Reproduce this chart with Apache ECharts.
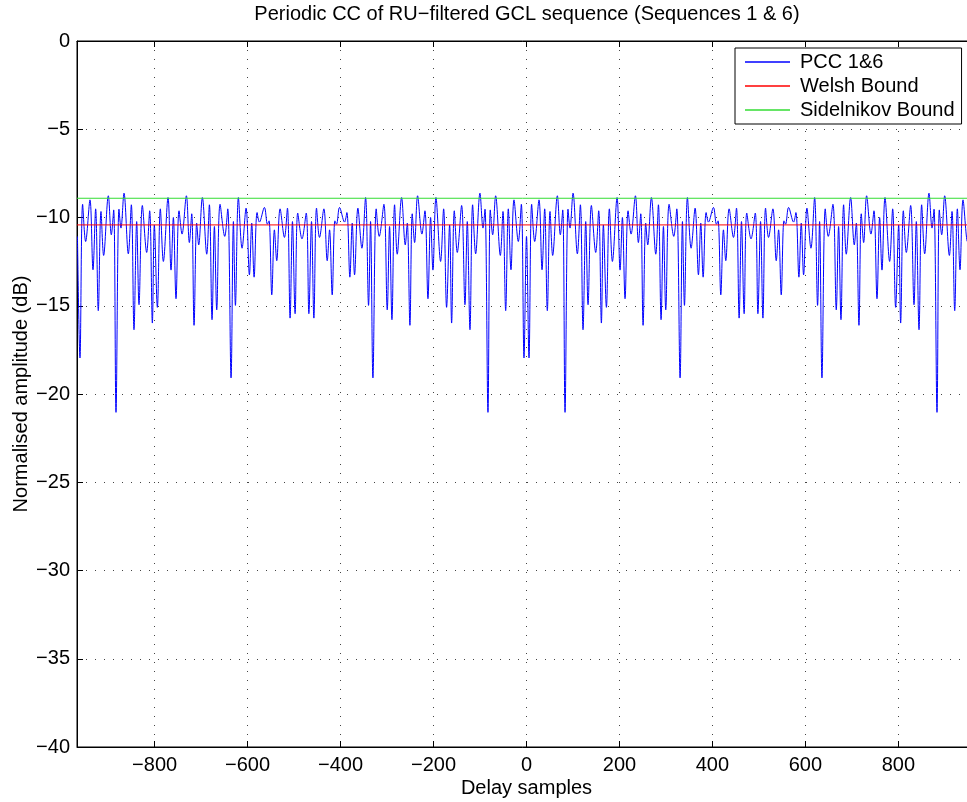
<!DOCTYPE html>
<html><head><meta charset="utf-8">
<script src="https://cdn.jsdelivr.net/npm/echarts@6/dist/echarts.min.js"></script>
<style>html,body{margin:0;padding:0;background:#fff}#c{width:967px;height:802px}</style>
</head><body><div id="c"></div>
<script>
// Delay (samples) of each read-off turning point of the PCC curve
const delays = [
-966.0,-960.6,-954.9,-948.4,-939.1,-932.6,-926.9,-921.2,-915.4,-909.7,-899.6,-893.2,-888.1,-883.1,-876.7,-872.4,-865.9,-856.6,-850.1,-844.4,-838.6,-833.6,-826.4,-817.1,-810.7,-804.9,-800.6,-794.1,-787.7,-781.2,-771.2,-764.7,-759.7,-754.0,-747.5,-741.0,-731.7,-725.3,-720.2,-715.2,-709.5,-705.2,-697.3,-687.9,-682.2,-676.5,-671.4,-666.4,-659.2,-649.2,-642.7,-635.6,-630.5,-626.2,-619.8,-611.9,-603.3,-596.1,-591.1,-586.0,-579.6,-574.6,-563.8,-557.3,-553.8,-548.0,-542.3,-537.3,-530.1,-520.7,-514.3,-508.6,-503.5,-497.8,-492.1,-483.0,
-473.9,-468.2,-462.5,-457.4,-451.7,-445.3,-435.9,-428.7,-423.7,-418.0,-412.2,-408.7,-402.2,-391.4,-386.4,-380.0,-374.9,-369.9,-362.7,-354.1,-346.2,-339.8,-335.5,-330.4,-323.3,-316.8,-306.8,-299.6,-294.6,-289.5,-283.8,-278.1,-268.7,-260.8,-256.5,-250.8,-245.8,-240.7,-234.3,-225.0,-218.5,-212.0,-206.3,-201.3,-194.8,-184.8,-178.3,-171.9,-165.4,-161.1,-155.3,-148.9,-139.6,-132.4,-127.4,-121.6,-115.9,-109.4,-100.1,-93.6,-89.3,-82.9,-77.9,-72.8,-66.4,-56.3,-50.6,-44.8,-39.1,-33.4,-26.9,-17.6,-11.1,-5.4,0,
5.4,11.1,17.6,26.9,33.4,39.1,44.8,50.6,56.3,66.4,72.8,77.9,82.9,89.3,93.6,100.1,109.4,115.9,121.6,127.4,132.4,139.6,148.9,155.3,161.1,165.4,171.9,178.3,184.8,194.8,201.3,206.3,212.0,218.5,225.0,234.3,240.7,245.8,250.8,256.5,260.8,268.7,278.1,283.8,289.5,294.6,299.6,306.8,316.8,323.3,330.4,335.5,339.8,346.2,354.1,362.7,369.9,374.9,380.0,386.4,391.4,402.2,408.7,412.2,418.0,423.7,428.7,435.9,445.3,451.7,457.4,462.5,468.2,473.9,483.0,
492.1,497.8,503.5,508.6,514.3,520.7,530.1,537.3,542.3,548.0,553.8,557.3,563.8,574.6,579.6,586.0,591.1,596.1,603.3,611.9,619.8,626.2,630.5,635.6,642.7,649.2,659.2,666.4,671.4,676.5,682.2,687.9,697.3,705.2,709.5,715.2,720.2,725.3,731.7,741.0,747.5,754.0,759.7,764.7,771.2,781.2,787.7,794.1,800.6,804.9,810.7,817.1,826.4,833.6,838.6,844.4,850.1,856.6,865.9,872.4,876.7,883.1,888.1,893.2,899.6,909.7,915.4,921.2,926.9,932.6,939.1,948.4,954.9,960.6,966.0
];
// Normalised amplitude (dB) at those delays
const pcc = [
-11.07,-17.96,-9.25,-11.36,-9.00,-12.96,-9.51,-15.28,-9.66,-12.15,-8.77,-10.98,-9.57,-21.04,-9.53,-10.60,-8.62,-12.06,-9.28,-16.36,-10.23,-14.94,-9.32,-11.98,-9.62,-15.98,-10.42,-15.09,-9.51,-12.49,-8.87,-12.98,-10.00,-14.60,-9.62,-10.94,-8.77,-11.42,-9.79,-16.11,-10.32,-11.55,-8.87,-12.08,-9.28,-15.79,-10.51,-15.23,-9.25,-11.07,-9.51,-19.09,-10.23,-14.98,-8.87,-11.74,-9.47,-13.25,-10.32,-13.38,-9.72,-10.26,-9.43,-10.38,-10.19,-14.38,-10.70,-12.45,-9.51,-11.13,-9.47,-15.70,-10.23,-15.45,-9.75,-11.21,
-9.75,-15.45,-10.23,-15.70,-9.47,-11.13,-9.51,-12.45,-10.70,-14.38,-10.19,-10.38,-9.43,-10.26,-9.72,-13.38,-10.32,-13.25,-9.47,-11.74,-8.87,-14.98,-10.23,-19.09,-9.51,-11.07,-9.25,-15.23,-10.51,-15.79,-9.28,-12.08,-8.87,-11.55,-10.32,-16.11,-9.79,-11.42,-8.77,-10.94,-9.62,-14.60,-10.00,-12.98,-8.87,-12.49,-9.51,-15.09,-10.42,-15.98,-9.62,-11.98,-9.32,-14.94,-10.23,-16.36,-9.28,-12.06,-8.62,-10.60,-9.53,-21.04,-9.57,-10.98,-8.77,-12.15,-9.66,-15.28,-9.51,-12.96,-9.00,-11.36,-9.25,-17.96,-11.07,
-17.96,-9.25,-11.36,-9.00,-12.96,-9.51,-15.28,-9.66,-12.15,-8.77,-10.98,-9.57,-21.04,-9.53,-10.60,-8.62,-12.06,-9.28,-16.36,-10.23,-14.94,-9.32,-11.98,-9.62,-15.98,-10.42,-15.09,-9.51,-12.49,-8.87,-12.98,-10.00,-14.60,-9.62,-10.94,-8.77,-11.42,-9.79,-16.11,-10.32,-11.55,-8.87,-12.08,-9.28,-15.79,-10.51,-15.23,-9.25,-11.07,-9.51,-19.09,-10.23,-14.98,-8.87,-11.74,-9.47,-13.25,-10.32,-13.38,-9.72,-10.26,-9.43,-10.38,-10.19,-14.38,-10.70,-12.45,-9.51,-11.13,-9.47,-15.70,-10.23,-15.45,-9.75,-11.21,
-9.75,-15.45,-10.23,-15.70,-9.47,-11.13,-9.51,-12.45,-10.70,-14.38,-10.19,-10.38,-9.43,-10.26,-9.72,-13.38,-10.32,-13.25,-9.47,-11.74,-8.87,-14.98,-10.23,-19.09,-9.51,-11.07,-9.25,-15.23,-10.51,-15.79,-9.28,-12.08,-8.87,-11.55,-10.32,-16.11,-9.79,-11.42,-8.77,-10.94,-9.62,-14.60,-10.00,-12.98,-8.87,-12.49,-9.51,-15.09,-10.42,-15.98,-9.62,-11.98,-9.32,-14.94,-10.23,-16.36,-9.28,-12.06,-8.62,-10.60,-9.53,-21.04,-9.57,-10.98,-8.77,-12.15,-9.66,-15.28,-9.51,-12.96,-9.00,-11.36,-9.25,-17.96,-11.07
];
const welshBound = -10.42;
const sidelnikovBound = -8.91;
const delayRange = [-967, 967];
const ampRange = [-40, 0];
const seriesNames = ['PCC 1&6', 'Welsh Bound', 'Sidelnikov Bound'];
const titleText = 'Periodic CC of RU\u2212filtered GCL sequence (Sequences 1 & 6)';
const xName = 'Delay samples';
const yName = 'Normalised amplitude (dB)';

const FONT = "'Liberation Sans', Arial, Helvetica, sans-serif";
const FS = 20;
const minus = v => (v < 0 ? '\u2212' + Math.abs(v) : String(v));

const chart = echarts.init(document.getElementById('c'), null, {renderer: 'canvas'});
const gridBox = {left: 77, top: 41, width: 899, height: 706};
const dotted = {color: '#444', width: 1, type: [1, 8]};

chart.setOption({
  animation: false,
  backgroundColor: '#fff',
  textStyle: {fontFamily: FONT},
  title: {
    text: titleText, left: 527, top: 4, textAlign: 'center', padding: 0,
    textStyle: {fontFamily: FONT, fontSize: FS, fontWeight: 'normal', color: '#000'}
  },
  grid: Object.assign({show: true, borderColor: '#000', borderWidth: 1, backgroundColor: 'transparent',
    containLabel: false, outerBoundsMode: 'none'}, gridBox),
  legend: {
    orient: 'vertical', left: 735, top: 48, data: seriesNames,
    backgroundColor: '#fff', borderColor: '#000', borderWidth: 1,
    padding: [4, 7, 4, 10], itemGap: 4, itemWidth: 45, itemHeight: 1.5, icon: 'rect',
    textStyle: {fontFamily: FONT, fontSize: FS, color: '#000', lineHeight: 20, padding: [0, 0, 0, 5]}
  },
  xAxis: [{
    type: 'value', min: delayRange[0], max: delayRange[1], splitNumber: 10,
    name: xName, nameLocation: 'middle', nameGap: 31, nameMoveOverlap: false,
    nameTextStyle: {fontFamily: FONT, fontSize: FS, color: '#000'},
    axisLine: {show: true, onZero: false, lineStyle: {color: '#000'}},
    axisTick: {show: true, inside: true, length: 6, lineStyle: {color: '#000'}},
    axisLabel: {fontFamily: FONT, fontSize: FS, color: '#000', margin: 8, formatter: minus, showMinLabel: false, showMaxLabel: false},
    splitLine: {show: true, lineStyle: dotted}
  }, {
    type: 'value', position: 'top', min: delayRange[0], max: delayRange[1], splitNumber: 10,
    axisLine: {show: true, onZero: false, lineStyle: {color: '#000'}},
    axisTick: {show: true, inside: true, length: 6, lineStyle: {color: '#000'}},
    axisLabel: {show: false}, splitLine: {show: false}
  }],
  yAxis: [{
    type: 'value', min: ampRange[0], max: ampRange[1], interval: 5,
    name: yName, nameLocation: 'middle', nameGap: 46, nameMoveOverlap: false,
    nameTextStyle: {fontFamily: FONT, fontSize: FS, color: '#000'},
    axisLine: {show: true, onZero: false, lineStyle: {color: '#000'}},
    axisTick: {show: true, inside: true, length: 6, lineStyle: {color: '#000'}},
    axisLabel: {fontFamily: FONT, fontSize: FS, color: '#000', margin: 7, formatter: minus},
    splitLine: {show: true, lineStyle: dotted}
  }],
  series: [{
    name: seriesNames[0], type: 'line', symbol: 'none', smooth: 0.35,
    lineStyle: {color: '#0000ff', width: 1}, itemStyle: {color: '#0000ff'},
    data: delays.map((d, i) => [d, pcc[i]]), z: 2
  }, {
    name: seriesNames[1], type: 'line', symbol: 'none',
    lineStyle: {color: '#ff0000', width: 1}, itemStyle: {color: '#ff0000'},
    data: [[delayRange[0], welshBound], [delayRange[1], welshBound]], z: 3
  }, {
    name: seriesNames[2], type: 'line', symbol: 'none',
    lineStyle: {color: '#33dd33', width: 1}, itemStyle: {color: '#33dd33'},
    data: [[delayRange[0], sidelnikovBound], [delayRange[1], sidelnikovBound]], z: 4
  }]
});
</script>
</body></html>
